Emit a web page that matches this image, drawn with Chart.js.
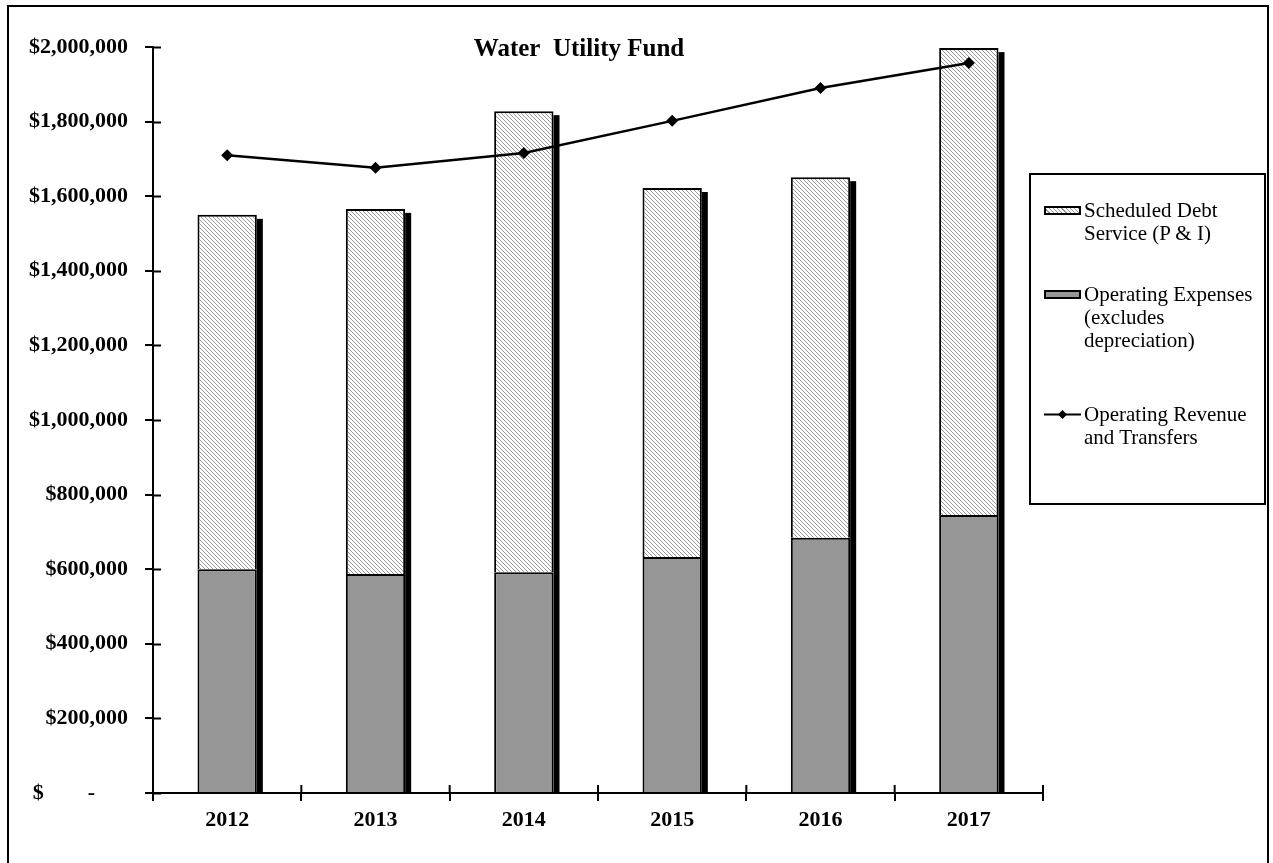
<!DOCTYPE html>
<html>
<head>
<meta charset="utf-8">
<script src="https://cdn.jsdelivr.net/npm/chart.js@4/dist/chart.umd.min.js"></script>
<style>
  html, body { margin:0; padding:0; background:#fff; overflow:hidden; }
  #wrap { position:relative; width:1273px; height:863px; }
  #frame { position:absolute; left:7px; top:5px; width:1262px; height:870px; border:2px solid #000; box-sizing:border-box; }
  #c { position:absolute; left:0; top:0; }
  #legend { position:absolute; left:1029px; top:173px; width:237px; height:332px; border:2px solid #000; box-sizing:border-box;
            font-family:"Liberation Serif", "Times New Roman", serif; font-size:21px; color:#000; }
  .item { position:absolute; left:0; }
  .item .txt { position:absolute; left:53px; top:0; line-height:23px; white-space:pre; }
  .item .sw { position:absolute; left:13px; top:7px; width:37px; height:9px; box-sizing:border-box; }
  .item .sw svg { display:block; }
</style>
</head>
<body>
<div id="wrap">
  <canvas id="c" width="1273" height="863"></canvas>
  <div id="frame"></div>
  <div id="legend"></div>
</div>
<script>
// Water Utility Fund - stacked expense bars with revenue line
const years = ['2012', '2013', '2014', '2015', '2016', '2017'];
const opExpenses = [600000, 587000, 592000, 633000, 684000, 745000];
const debtService = [950000, 979000, 1236000, 989000, 967000, 1252000];
const opRevenue = [1710000, 1676000, 1716000, 1802000, 1890000, 1957000];
const seriesNames = ['Scheduled Debt\nService (P & I)', 'Operating Expenses\n(excludes\ndepreciation)', 'Operating Revenue\nand Transfers'];
const yTicks = [0, 200000, 400000, 600000, 800000, 1000000, 1200000, 1400000, 1600000, 1800000, 2000000];

const serif = '"Liberation Serif", "Times New Roman", serif';

// hatch pattern for debt service
function hatch(){
  const t = document.createElement('canvas');
  t.width = 4; t.height = 4;
  const g = t.getContext('2d');
  g.fillStyle = '#fff'; g.fillRect(0,0,4,4);
  g.strokeStyle = '#999'; g.lineWidth = 1;
  g.beginPath();
  g.moveTo(-1,-1); g.lineTo(5,5);
  g.moveTo(-1,3); g.lineTo(1,5);
  g.moveTo(3,-1); g.lineTo(5,1);
  g.stroke();
  return g.createPattern(t, 'repeat');
}
const ctx = document.getElementById('c').getContext('2d');
const hatchFill = hatch();

// shadows on right side of bars + tick marks crossing axes + title
const extras = {
  id: 'extras',
  beforeDatasetsDraw(chart){
    const c = chart.ctx;
    const low = chart.getDatasetMeta(0).data, top = chart.getDatasetMeta(1).data;
    c.save();
    c.fillStyle = '#000';
    top.forEach((el, i) => {
      const base = low[i].base;
      const right = el.x + el.width/2;
      c.fillRect(right, el.y + 4, 6, base - el.y - 4);
    });
    c.restore();
  },
  afterDraw(chart){
    const c = chart.ctx, xs = chart.scales.x, ys = chart.scales.y;
    c.save();
    c.strokeStyle = '#000'; c.lineWidth = 2;
    c.beginPath();
    yTicks.forEach(v => {
      const y = Math.round(ys.getPixelForValue(v)) + 0.5;
      c.moveTo(xs.left, y); c.lineTo(xs.left + 8, y);
    });
    const half = (xs.getPixelForTick(1) - xs.getPixelForTick(0)) / 2;
    for (let i = 0; i <= years.length; i++) {
      const x = xs.getPixelForTick(0) - half + i * half * 2;
      c.moveTo(x, ys.bottom); c.lineTo(x, ys.bottom - 8);
    }
    c.stroke();
    c.fillStyle = '#000';
    c.font = 'bold 25px ' + serif;
    c.textAlign = 'center'; c.textBaseline = 'middle';
    c.fillText('Water  Utility Fund', 579, 50);
    c.restore();
  }
};

const chart = new Chart(ctx, {
  type: 'bar',
  data: {
    labels: years,
    datasets: [
      { label: seriesNames[1], data: opExpenses, backgroundColor: '#969696', borderColor: '#000', borderWidth: 2, stack: 'exp', order: 1,
        categoryPercentage: 1, barPercentage: 0.4 },
      { label: seriesNames[0], data: debtService, backgroundColor: hatchFill, borderColor: '#000', borderWidth: 2, stack: 'exp', order: 1,
        categoryPercentage: 1, barPercentage: 0.4 },
      { type: 'line', label: seriesNames[2], data: opRevenue, borderColor: '#000', backgroundColor: '#000', borderWidth: 2.5,
        pointStyle: 'rectRot', pointRadius: 6, pointBorderWidth: 0, stack: 'rev', order: 0, tension: 0 }
    ]
  },
  options: {
    responsive: false,
    animation: false,
    layout: { padding: { left: 8, right: 230, top: 47, bottom: 0 } },
    plugins: { legend: { display: false }, title: { display: false }, tooltip: { enabled: false } },
    scales: {
      x: {
        stacked: true,
        grid: { display: true, drawOnChartArea: false, offset: true, tickLength: 8, color: '#000', lineWidth: 2 },
        border: { color: '#000', width: 2 },
        ticks: { color: '#000', padding: 6, font: { family: serif, size: 22, weight: 'bold' } },
        afterFit(s){ s.height = 70; }
      },
      y: {
        stacked: true, min: 0, max: 2000000,
        grid: { display: true, drawOnChartArea: false, tickLength: 8, color: '#000', lineWidth: 2 },
        border: { color: '#000', width: 2 },
        afterBuildTicks(s){ s.ticks = yTicks.map(v => ({ value: v })); },
        ticks: {
          color: '#000', padding: 17, font: { family: serif, size: 22, weight: 'bold' },
          callback: v => v === 0 ? '$        -      ' : '$' + v.toLocaleString('en-US')
        },
        afterFit(s){ s.width = 145; }
      }
    }
  },
  plugins: [extras]
});

// legend built from the datasets
const legend = document.getElementById('legend');
const entries = [
  { name: seriesNames[0], top: 24, kind: 'hatch' },
  { name: seriesNames[1], top: 108, kind: 'solid' },
  { name: seriesNames[2], top: 228, kind: 'line' }
];
entries.forEach(e => {
  const d = document.createElement('div');
  d.className = 'item'; d.style.top = e.top + 'px';
  const sw = document.createElement('div');
  sw.className = 'sw';
  if (e.kind === 'hatch') {
    sw.style.border = '2px solid #000';
    sw.style.background = 'repeating-linear-gradient(45deg, #fff 0 2px, #999 2px 3px)';
  } else if (e.kind === 'solid') {
    sw.style.border = '2px solid #000';
    sw.style.background = '#969696';
  } else {
    sw.innerHTML = '<svg width="37" height="9"><line x1="0" y1="4.5" x2="37" y2="4.5" stroke="#000" stroke-width="2"/><polygon points="18.5,0 23,4.5 18.5,9 14,4.5" fill="#000"/></svg>';
  }
  const t = document.createElement('div');
  t.className = 'txt'; t.textContent = e.name;
  d.appendChild(sw); d.appendChild(t);
  legend.appendChild(d);
});
</script>
</body>
</html>
